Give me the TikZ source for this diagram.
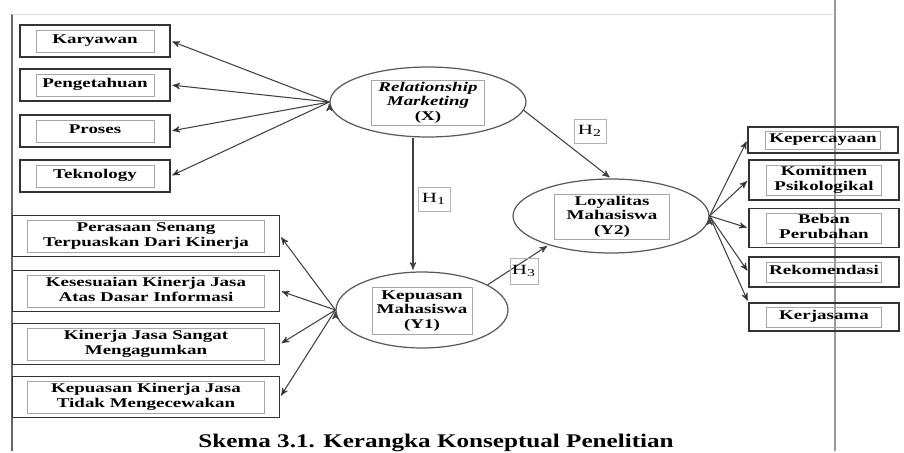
\documentclass[tikz,border=0pt]{standalone}
\usepackage{fontspec}
\setmainfont{Liberation Serif}
\usepackage{graphicx}
\usetikzlibrary{arrows,shapes}
\newcommand{\wtext}[1]{\scalebox{1.42}[1]{\begin{tabular}{@{}c@{}}#1\end{tabular}}}

\begin{document}
\begin{tikzpicture}[x=0.02cm,y=-0.02cm,>=stealth',shorten >=1pt,
  outbox/.style={draw=black!80,line width=0.8pt,inner sep=0pt,minimum width=3cm},
  inbox/.style={draw=black!35,line width=0.5pt,inner sep=0pt,font=\fontsize{7.6}{8.5}\selectfont\bfseries},
  latent/.style={ellipse,draw=black!65,line width=0.7pt,inner sep=0pt},
  hbox/.style={draw=black!30,line width=0.5pt,inner sep=0pt,minimum width=0.64cm,minimum height=0.48cm,font=\fontsize{8}{9}\selectfont},
  link/.style={->,draw=black!75,line width=0.6pt}]
  \useasboundingbox (0,0) rectangle (904,453);
  \draw[black!60,line width=0.6pt] (12,14) -- (12,453);
  \draw[black!15,line width=0.5pt] (12,14) -- (835,14);
  \draw[black!40,line width=0.6pt] (835,0) -- (835,453);

  % relationship marketing
  \node[latent,minimum width=3.92cm,minimum height=1.4cm] (X) at (428,102) {};
  \node[inbox,minimum width=2.26cm,minimum height=0.8cm] (Xt) at (428,103) {\wtext{\textit{Relationship}\\\textit{Marketing}\\(X)}};
  \node[outbox,minimum height=0.64cm] (k1) at (95,41) {};
  \node[inbox,minimum width=2.36cm,minimum height=0.44cm] at (k1) {\wtext{Karyawan}};
  \node[outbox,minimum height=0.64cm] (k2) at (95,85) {};
  \node[inbox,minimum width=2.36cm,minimum height=0.44cm] at (k2) {\wtext{Pengetahuan}};
  \node[outbox,minimum height=0.64cm] (k3) at (95,131) {};
  \node[inbox,minimum width=2.36cm,minimum height=0.44cm] at (k3) {\wtext{Proses}};
  \node[outbox,minimum height=0.64cm] (k4) at (95,176) {};
  \node[inbox,minimum width=2.36cm,minimum height=0.44cm] at (k4) {\wtext{Teknology}};
  \path[link] (X.west) edge (k1.east) edge (k2.east) edge (k3.east) edge (k4.east);

  % kepuasan mahasiswa
  \node[latent,minimum width=3.44cm,minimum height=1.52cm] (Y1) at (422,310) {};
  \node[inbox,minimum width=2cm,minimum height=0.94cm] (Y1t) at (422,311) {\wtext{Kepuasan\\Mahasiswa\\(Y1)}};
  \node[outbox,minimum width=5.34cm,minimum height=0.82cm] (p1) at (146,236) {};
  \node[inbox,minimum width=4.74cm,minimum height=0.64cm] at (p1) {\wtext{Perasaan Senang\\Terpuaskan Dari Kinerja}};
  \node[outbox,minimum width=5.34cm,minimum height=0.82cm] (p2) at (146,291) {};
  \node[inbox,minimum width=4.74cm,minimum height=0.64cm] at (p2) {\wtext{Kesesuaian Kinerja Jasa\\Atas Dasar Informasi}};
  \node[outbox,minimum width=5.34cm,minimum height=0.82cm] (p3) at (146,344) {};
  \node[inbox,minimum width=4.74cm,minimum height=0.64cm] at (p3) {\wtext{Kinerja Jasa Sangat\\Mengagumkan}};
  \node[outbox,minimum width=5.34cm,minimum height=0.82cm] (p4) at (146,397) {};
  \node[inbox,minimum width=4.74cm,minimum height=0.64cm] at (p4) {\wtext{Kepuasan Kinerja Jasa\\Tidak Mengecewakan}};
  \path[link] (Y1.west) edge (p1.east) edge (p2.east) edge (p3.east) edge (p4.east);

  % loyalitas mahasiswa
  \node[latent,minimum width=3.92cm,minimum height=1.48cm] (Y2) at (611,216) {};
  \node[inbox,minimum width=2.3cm,minimum height=0.9cm] (Y2t) at (612,217) {\wtext{Loyalitas\\Mahasiswa\\(Y2)}};
  \node[outbox,minimum height=0.52cm] (r1) at (823,140) {};
  \node[inbox,minimum width=2.3cm,minimum height=0.36cm] at (r1) {\wtext{Kepercayaan}};
  \node[outbox,minimum height=0.8cm] (r2) at (824,180) {};
  \node[inbox,minimum width=2.3cm,minimum height=0.6cm] at (r2) {\wtext{Komitmen\\Psikologikal}};
  \node[outbox,minimum height=0.78cm] (r3) at (824,228) {};
  \node[inbox,minimum width=2.3cm,minimum height=0.6cm] at (r3) {\wtext{Beban\\Perubahan}};
  \node[outbox,minimum height=0.6cm] (r4) at (824,272) {};
  \node[inbox,minimum width=2.3cm,minimum height=0.4cm] at (r4) {\wtext{Rekomendasi}};
  \node[outbox,minimum height=0.56cm] (r5) at (824,317) {};
  \node[inbox,minimum width=2.3cm,minimum height=0.4cm] at (r5) {\wtext{Kerjasama}};
  \path[link] (Y2.east) edge (r1.west) edge (r2.west) edge (r3.west) edge (r4.west) edge (r5.north west);

  % hipotesis
  \draw[link] ([xshift=-0.3cm]X.south) -- ([xshift=-0.3cm]X.south |- Y1.north);
  \node[hbox] (h1) at (434,199) {\scalebox{1.5}[1]{H\textsubscript{1}}};
  \draw[link] (X.-5) -- (Y2.north);
  \node[hbox] (h2) at (590,131) {\scalebox{1.5}[1]{H\textsubscript{2}}};
  \draw[link] (Y1.21) -- (Y2.205);
  \node[hbox,minimum width=0.56cm,minimum height=0.52cm] (h3) at (524,271) {\scalebox{1.5}[1]{H\textsubscript{3}}};

  \node[anchor=base] (cap) at (436,447) {\scalebox{1.3}[1]{\fontsize{11}{13}\selectfont\bfseries Skema 3.1. Kerangka Konseptual Penelitian}};
\end{tikzpicture}
\end{document}
